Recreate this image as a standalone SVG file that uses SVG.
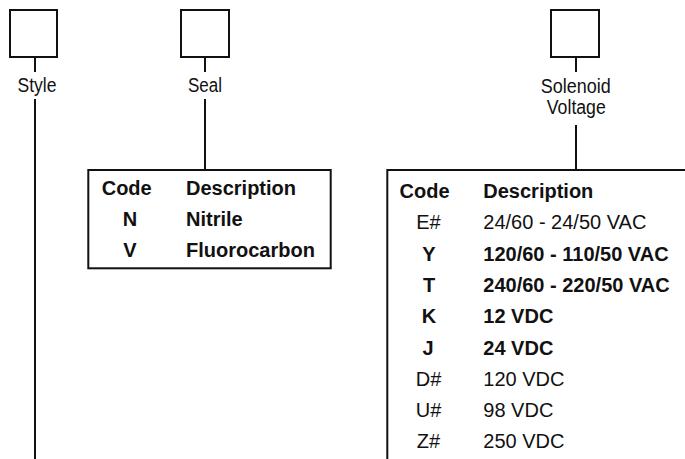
<svg xmlns="http://www.w3.org/2000/svg" width="685" height="459" viewBox="0 0 685 459">
<style>
.box{fill:#fff;stroke:#111;stroke-width:2}
.ln{fill:none;stroke:#111;stroke-width:2}
.lbl{font-family:"Liberation Sans",Arial,sans-serif;font-size:20px;fill:#111;text-anchor:middle}
.t{font-family:"Liberation Sans",Arial,sans-serif;font-size:20px;fill:#111}
.b{font-weight:bold}
.c{text-anchor:middle}
</style>
<g id="connectors">
<line class="ln" x1="35" y1="57" x2="35" y2="72"/>
<line class="ln" x1="35" y1="99" x2="35" y2="459"/>
<line class="ln" x1="205" y1="57" x2="205" y2="72"/>
<line class="ln" x1="205" y1="99" x2="205" y2="170"/>
<line class="ln" x1="576" y1="57" x2="576" y2="72"/>
<line class="ln" x1="576" y1="125" x2="576" y2="170"/>
</g>
<g id="style">
<rect class="box" x="10" y="10" width="47" height="47"/>
<text class="lbl" x="37" y="92.3" textLength="39" lengthAdjust="spacingAndGlyphs">Style</text>
</g>
<g id="seal">
<rect class="box" x="181" y="10" width="48" height="47"/>
<text class="lbl" x="205" y="92.3" textLength="34" lengthAdjust="spacingAndGlyphs">Seal</text>
</g>
<g id="solenoid">
<rect class="box" x="551" y="10" width="48" height="47"/>
<text class="lbl" x="575.7" y="92.5" textLength="70" lengthAdjust="spacingAndGlyphs">Solenoid</text>
<text class="lbl" x="576.3" y="114.3" textLength="59" lengthAdjust="spacingAndGlyphs">Voltage</text>
</g>
<g id="seal-table">
<rect class="box" x="88.3" y="170" width="242.4" height="98.3"/>
<text class="t b" x="101.7" y="195">Code</text>
<text class="t b" x="186" y="195">Description</text>
<text class="t b c" x="130" y="225.5">N</text>
<text class="t b" x="186" y="225.5">Nitrile</text>
<text class="t b c" x="130" y="256.5">V</text>
<text class="t b" x="186" y="256.5">Fluorocarbon</text>
</g>
<g id="solenoid-table">
<path class="ln" d="M387.3,459 V170 H686"/>
<text class="t b" x="399.5" y="198">Code</text>
<text class="t b" x="483.3" y="198">Description</text>
<text class="t c" x="428.5" y="229.3">E#</text>
<text class="t" x="483.3" y="229.3">24/60 - 24/50 VAC</text>
<text class="t b c" x="429" y="260.6">Y</text>
<text class="t b" x="483.3" y="260.6">120/60 - 110/50 VAC</text>
<text class="t b c" x="429" y="291.9">T</text>
<text class="t b" x="483.3" y="291.9">240/60 - 220/50 VAC</text>
<text class="t b c" x="429" y="323.2">K</text>
<text class="t b" x="483.3" y="323.2">12 VDC</text>
<text class="t b c" x="428" y="354.5">J</text>
<text class="t b" x="483.3" y="354.5">24 VDC</text>
<text class="t c" x="428.5" y="385.8">D#</text>
<text class="t" x="483.3" y="385.8">120 VDC</text>
<text class="t c" x="428.5" y="417.1">U#</text>
<text class="t" x="483.3" y="417.1">98 VDC</text>
<text class="t c" x="428.5" y="448.4">Z#</text>
<text class="t" x="483.3" y="448.4">250 VDC</text>
</g>
</svg>
